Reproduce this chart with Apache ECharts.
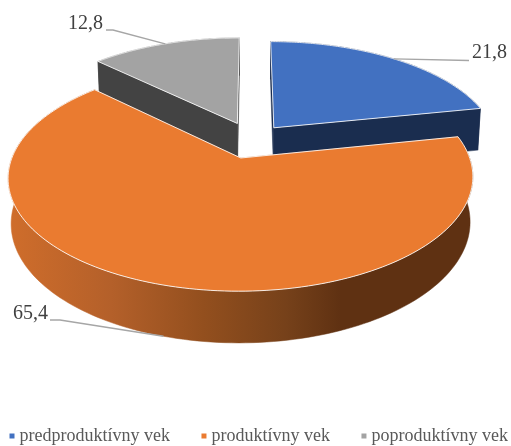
<!DOCTYPE html>
<html>
<head>
<meta charset="utf-8">
<style>html,body{margin:0;padding:0;background:#fff}#c{width:511px;height:446px}</style>
<script src="https://cdn.jsdelivr.net/npm/echarts@6/dist/echarts.min.js"></script>
</head>
<body>
<div id="c"></div>
<script>
const categories = ['predproduktívny vek', 'produktívny vek', 'poproduktívny vek'];
const values = [21.8, 65.4, 12.8];
const topColors = ['#4271C1', '#EA7B30', '#A3A3A3'];
const wallColors = ['#1A2D4F', '#C96A2A', '#434343'];
const drawOrder = [2, 3, 1];   // z per slice: far slices first, near slice last

// projection of the tilted pie
const cam = { cx: 251, cy: 141.5, R: 223, k: 104.6, p: 0.168, t: 0.012, M: 44.1 };
const explode = [0.16, 0.16, 0.16];
const nudge = [[0.7, -1], [0, 0], [0, -3]];
// leader elbows and label anchors
const leaders = [
  { pts: [[469, 60.5]], text: [472, 53], align: 'left', bottom: false },
  { pts: [[60, 320], [50, 320]], text: [48, 314], align: 'right', bottom: true },
  { pts: [[113, 30], [106, 30]], text: [103, 24], align: 'right', bottom: false }
];
const total = values.reduce((a, b) => a + b, 0);

function proj(X, Y, low, n) {
  const w = 1 - cam.p * Y + (low ? cam.t : 0);
  return [cam.cx + n[0] + cam.R * X / w, cam.cy + n[1] + (cam.k * Y + (low ? cam.M : 0)) / w];
}
function sliceGeom(i) {
  const before = values.slice(0, i).reduce((a, b) => a + b, 0);
  const a0 = before / total * 2 * Math.PI;
  const a1 = (before + values[i]) / total * 2 * Math.PI;
  const mid = (a0 + a1) / 2;
  const ox = explode[i] * Math.sin(mid), oy = -explode[i] * Math.cos(mid);
  const at = (a, low) => proj(ox + Math.sin(a), oy - Math.cos(a), low, nudge[i]);
  const arc = low => {
    const n = 160, out = [];
    for (let j = 0; j <= n; j++) out.push(at(a0 + (a1 - a0) * j / n, low));
    return out;
  };
  return { a0, a1, mid, at, arc, apex: low => proj(ox, oy, low, nudge[i]) };
}
function wallFill(i) {
  if (i !== 1) return wallColors[i];
  return new echarts.graphic.LinearGradient(10, 0, 470, 0, [
    { offset: 0, color: '#CF6D2B' },
    { offset: 0.22, color: '#B4602A' },
    { offset: 0.42, color: '#934F1E' },
    { offset: 0.6, color: '#76411A' },
    { offset: 0.72, color: '#5F3112' },
    { offset: 1, color: '#5F3112' }
  ], true);
}
function renderSlice(i) {
  return function () {
    const g = sliceGeom(i);
    const top = g.arc(false), low = g.arc(true);
    const c = [];
    const poly = (points, fill, stroke) => c.push({
      type: 'polygon', shape: { points },
      style: { fill, stroke: stroke || fill, lineWidth: stroke ? 1 : 0.5 }
    });
    // outer curved wall
    poly(top.concat(low.slice().reverse()), wallFill(i));
    // radial walls
    [g.a0, g.a1].forEach(a => {
      poly([g.apex(false), g.at(a, false), g.at(a, true), g.apex(true)], wallColors[i]);
    });
    // top face
    poly([g.apex(false)].concat(top), topColors[i], 'rgba(255,255,255,0.85)');
    // leader and label
    const L = leaders[i];
    const anchor = g.at(g.mid, L.bottom);
    c.push({
      type: 'polyline', shape: { points: [anchor].concat(L.pts) },
      style: { stroke: '#A6A6A6', fill: null, lineWidth: 1.4 }
    });
    c.push({
      type: 'text',
      style: {
        text: String(values[i]).replace('.', ','), x: L.text[0], y: L.text[1],
        textAlign: L.align, textVerticalAlign: 'middle',
        fill: '#404040', font: '20px "Liberation Serif"'
      }
    });
    return { type: 'group', children: c };
  };
}
const chart = echarts.init(document.getElementById('c'), null, { renderer: 'canvas' });
chart.setOption({
  animation: false,
  backgroundColor: '#fff',
  legend: {
    data: categories, left: 9.5, top: 427, padding: 0,
    icon: 'rect', itemWidth: 5, itemHeight: 5, itemGap: 31.5, itemStyle: { borderWidth: 0 },
    textStyle: { fontFamily: 'Liberation Serif', fontSize: 18, color: '#595959', padding: [0, 0, 0, 0] }
  },
  series: categories.map((name, i) => ({
    type: 'custom', name, coordinateSystem: 'none', z: drawOrder[i], silent: true,
    itemStyle: { color: topColors[i] },
    data: [[values[i]]],
    renderItem: renderSlice(i)
  }))
});
</script>
</body>
</html>
